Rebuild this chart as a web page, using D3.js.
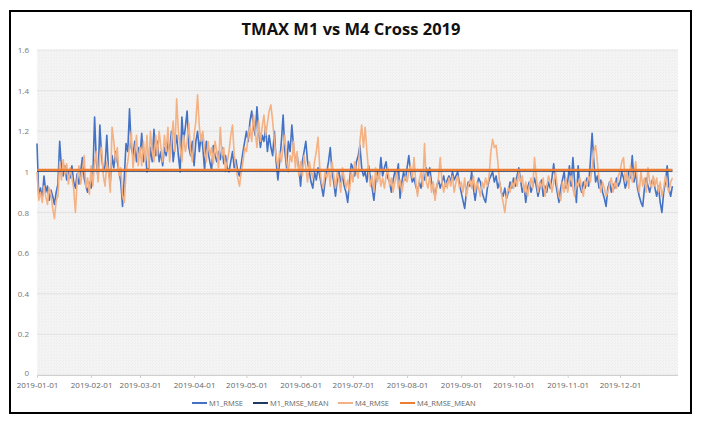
<!DOCTYPE html>
<html><head><meta charset="utf-8">
<script src="https://cdn.jsdelivr.net/npm/d3@7"></script>
<style>
html,body{margin:0;padding:0;background:#fff;}
svg{display:block;}
</style></head>
<body>
<svg id="chart" width="707" height="421"></svg>
<script>
// ---- data ----
const startDate = "2019-01-01";
const yTicks = [0, 0.2, 0.4, 0.6, 0.8, 1, 1.2, 1.4, 1.6];
const seriesNames = ["M1_RMSE", "M1_RMSE_MEAN", "M4_RMSE", "M4_RMSE_MEAN"];
const m1Mean = 1.005;
const m4Mean = 1.01;
const m1 = [
// Jan
1.14,0.88,0.92,0.87,0.98,0.90,0.93,0.86,0.91,0.88,0.84,0.90,0.94,1.15,1.02,0.98,1.03,0.96,1.00,0.97,1.03,0.95,0.92,0.99,0.94,1.00,1.07,0.97,0.93,0.90,0.95,
// Feb
0.92,0.98,1.27,1.05,0.97,1.23,1.08,1.00,1.03,1.18,1.00,0.95,1.08,1.02,1.10,1.05,1.00,0.95,0.83,0.97,1.14,1.10,1.31,1.12,1.08,1.15,1.05,1.12,
// Mar
1.08,1.19,1.05,1.10,1.00,1.02,1.12,1.05,1.21,1.08,1.15,1.05,1.10,1.03,1.12,1.08,1.15,1.10,1.20,1.05,1.12,1.18,1.08,1.00,1.27,1.15,1.22,1.30,1.12,1.08,1.15,
// Apr
1.03,1.15,1.20,1.10,1.18,1.12,1.01,1.15,1.10,1.05,1.01,1.13,1.08,1.05,1.10,1.06,1.12,1.04,1.08,1.02,1.00,1.05,1.10,1.02,1.06,1.00,0.98,1.04,1.10,1.15,
// May
1.20,1.15,1.25,1.30,1.22,1.18,1.32,1.20,1.12,1.18,1.15,1.22,1.10,1.18,1.12,1.08,1.20,1.05,0.96,1.05,1.15,1.28,1.10,1.02,1.15,1.10,1.23,1.12,1.05,1.08,1.02,
// Jun
0.93,1.05,1.10,1.15,1.05,1.00,0.95,0.92,1.00,0.96,1.02,0.98,0.93,0.88,0.95,1.00,1.05,1.12,1.00,0.95,0.88,0.96,1.00,0.95,0.98,0.93,0.90,0.85,0.95,1.04,
// Jul
1.02,0.98,1.05,1.08,1.13,1.02,0.98,1.00,0.95,1.03,0.97,0.92,0.86,0.95,1.00,0.97,1.07,0.98,1.02,1.05,0.97,0.95,0.90,0.96,1.00,0.98,1.04,0.87,0.95,1.00,0.96,
// Aug
1.02,1.08,1.00,0.95,0.97,0.93,0.90,0.95,0.92,0.98,0.96,1.02,0.98,1.02,0.95,0.92,0.88,0.93,0.96,0.92,0.95,0.98,0.93,0.96,0.98,0.95,1.00,0.96,0.98,1.00,0.94,
// Sep
0.90,0.86,0.82,0.90,0.95,0.93,1.00,0.92,0.86,0.93,0.97,0.95,0.90,0.87,0.85,0.92,0.96,0.98,1.00,0.95,0.98,0.92,0.95,0.90,0.88,0.92,0.87,0.90,0.95,0.92,
// Oct
0.97,0.93,0.98,1.02,0.96,0.90,0.93,0.85,0.92,0.95,0.90,0.93,0.97,0.93,0.88,0.92,0.96,0.88,0.93,0.90,0.95,0.92,0.97,1.04,0.95,0.90,0.85,0.92,0.96,1.00,0.92,
// Nov
0.95,1.03,0.93,1.07,0.95,0.85,1.03,0.93,0.90,0.95,0.92,0.97,0.93,1.05,1.19,1.05,0.95,0.98,0.92,0.96,0.90,0.87,0.83,0.92,0.95,0.90,0.94,0.92,0.97,0.93,
// Dec
0.95,1.00,0.97,0.92,0.95,1.00,0.97,1.08,0.95,1.00,0.92,0.88,0.85,0.83,0.92,0.97,0.93,0.90,0.95,0.97,0.92,0.88,0.93,0.85,0.80,0.90,0.95,1.03,0.92,0.88,0.93
];
const m4 = [
// Jan
1.00,0.86,0.90,0.85,0.93,0.88,0.84,0.92,0.89,0.82,0.77,0.86,0.88,1.05,0.96,1.06,0.99,1.04,0.94,1.02,0.97,0.92,0.80,0.96,1.03,0.94,1.00,1.08,0.92,0.97,0.89,
// Feb
1.03,0.93,1.05,1.10,0.95,1.08,1.12,0.98,0.93,1.05,1.00,0.90,1.22,1.15,1.05,1.12,0.98,1.02,0.88,0.85,1.00,1.05,1.12,1.20,1.02,1.10,1.18,1.03,
// Mar
1.12,1.03,1.15,1.05,1.18,1.02,1.20,1.10,1.05,1.18,1.08,1.20,1.12,1.05,1.18,1.10,1.22,1.05,1.15,1.25,1.10,1.36,1.20,1.12,1.05,1.18,1.10,1.15,1.24,1.10,1.05,
// Apr
1.18,1.25,1.38,1.22,1.15,1.20,1.10,1.05,1.15,1.08,1.12,1.04,1.15,1.10,1.02,1.22,1.08,1.12,1.00,1.05,1.10,1.18,1.23,1.08,1.02,0.97,0.93,1.00,1.05,1.12,
// May
1.10,1.18,1.22,1.15,1.28,1.20,1.12,1.25,1.15,1.22,1.28,1.18,1.24,1.30,1.33,1.25,1.15,1.08,1.02,1.10,1.05,1.12,1.18,1.05,1.00,1.08,1.05,1.15,1.02,1.10,0.98,
// Jun
1.05,0.98,1.08,1.02,0.95,1.05,1.00,0.97,1.05,1.10,1.17,1.02,0.95,0.92,1.00,0.97,1.02,0.93,1.05,0.98,0.92,1.00,0.96,0.90,1.02,0.97,0.92,0.96,0.90,1.00,
// Jul
0.95,1.05,1.00,0.97,1.15,1.23,1.12,1.22,1.10,1.00,0.93,0.98,0.90,1.02,0.95,1.00,0.93,0.97,0.92,0.98,1.02,0.93,0.97,0.90,0.95,1.00,0.92,0.96,0.90,0.95,0.98,
// Aug
0.95,1.00,1.03,0.97,1.07,0.95,0.88,0.96,1.00,0.93,1.14,0.95,0.92,0.98,0.90,0.95,0.86,0.93,0.97,1.07,0.95,0.90,0.95,0.92,0.97,0.93,0.98,0.90,0.95,0.98,0.92,
// Sep
0.95,0.90,0.97,0.88,0.93,0.96,0.92,0.98,0.90,0.95,0.92,0.88,0.95,0.92,0.97,0.93,0.98,1.10,1.16,1.12,1.13,1.05,0.95,0.90,0.85,0.80,0.88,0.92,0.90,0.95,
// Oct
0.92,0.97,0.93,1.00,0.95,0.98,0.90,0.95,0.88,0.93,0.97,0.92,1.07,0.98,0.90,0.95,0.92,0.97,0.88,0.93,0.98,0.95,0.90,0.95,1.00,0.93,0.88,0.86,0.95,0.90,0.97,
// Nov
0.90,0.95,0.98,0.92,0.88,0.95,0.93,0.97,0.92,0.88,0.96,0.93,0.98,0.95,1.02,1.10,1.13,1.05,0.96,0.90,0.95,0.92,0.88,0.90,0.94,0.97,0.90,0.95,0.92,0.98,
// Dec
1.00,1.05,1.07,0.95,1.00,0.92,1.03,0.95,0.98,1.05,0.95,0.90,1.00,0.93,0.97,0.90,1.02,0.95,0.92,0.98,0.93,0.97,0.90,0.95,0.88,0.92,0.98,0.93,0.90,0.95,0.97
];

// ---- chart ----
const svg = d3.select("#chart");
const font = "'Open Sans', 'Noto Sans', sans-serif";
const t0 = d3.timeParse("%Y-%m-%d")(startDate);
const dates = m1.map((_, i) => d3.timeDay.offset(t0, i));
const tEnd = dates[dates.length - 1];

const plot = {left: 37, right: 678, top: 50, bottom: 375};
const x = d3.scaleTime().domain([t0, tEnd]).range([37, 672.4]);
const y = d3.scaleLinear().domain([0, 1.6]).range([plot.bottom, plot.top]);

// outer frame
svg.append("rect").attr("x", 10).attr("y", 11).attr("width", 681).attr("height", 402)
  .attr("fill", "#fff").attr("stroke", "#000").attr("stroke-width", 2);

// title
svg.append("text").attr("x", 351).attr("y", 35).attr("text-anchor", "middle")
  .attr("font-family", font).attr("font-weight", "bold").attr("font-size", 16.5)
  .attr("fill", "#111").text("TMAX M1 vs M4 Cross 2019");

// textured plot background
const defs = svg.append("defs");
const pat = defs.append("pattern").attr("id", "tex").attr("patternUnits", "userSpaceOnUse")
  .attr("width", 3).attr("height", 3);
pat.append("rect").attr("width", 3).attr("height", 3).attr("fill", "#f4f4f4");
pat.append("rect").attr("x", 0).attr("y", 0).attr("width", 1).attr("height", 1).attr("fill", "#ebebeb");
pat.append("rect").attr("x", 2).attr("y", 1).attr("width", 1).attr("height", 1).attr("fill", "#ededed");
svg.append("rect").attr("x", plot.left).attr("y", plot.top)
  .attr("width", plot.right - plot.left).attr("height", plot.bottom - plot.top)
  .attr("fill", "url(#tex)");

// gridlines
svg.append("g").selectAll("line").data(yTicks).join("line")
  .attr("x1", plot.left).attr("x2", plot.right)
  .attr("y1", d => y(d)).attr("y2", d => y(d))
  .attr("stroke", "#dedede").attr("stroke-width", 0.8);

// y axis
const yAxis = d3.axisLeft(y).tickValues(yTicks).tickSize(0).tickPadding(8)
  .tickFormat(d3.format("~g"));
const gy = svg.append("g").attr("transform", `translate(${plot.left},0)`).call(yAxis);
gy.select(".domain").remove();
gy.selectAll("text").attr("font-family", font).attr("font-size", 8).attr("fill", "#777");
gy.selectAll(".tick").filter(d => d === 0).select("text").attr("dy", "0.1em");

// x axis
const monthTicks = d3.timeMonth.range(t0, d3.timeDay.offset(tEnd, 1));
const xAxis = d3.axisBottom(x).tickValues(monthTicks).tickSize(3).tickPadding(4)
  .tickFormat(d3.timeFormat("%Y-%m-%d"));
const gx = svg.append("g").attr("transform", `translate(0,${plot.bottom})`).call(xAxis);
gx.select(".domain").attr("stroke", "#d0d0d0").attr("d", `M${plot.left},0.5H${plot.right}`);
gx.selectAll(".tick line").attr("stroke", "#d0d0d0");
gx.selectAll("text").attr("font-family", font).attr("font-size", 8).attr("fill", "#666");

// lines
const line = d3.line().x((d, i) => x(dates[i])).y(d => y(d));
const colors = {"M1_RMSE": "#4472C4", "M1_RMSE_MEAN": "#1F3864", "M4_RMSE": "#F4B183", "M4_RMSE_MEAN": "#ED7D31"};

svg.append("path").datum(m1).attr("d", line).attr("fill", "none")
  .attr("stroke", colors.M1_RMSE).attr("stroke-width", 1.6).attr("stroke-linejoin", "round");
svg.append("path").datum(m4).attr("d", line).attr("fill", "none")
  .attr("stroke", colors.M4_RMSE).attr("stroke-width", 1.6).attr("stroke-linejoin", "round");
svg.append("line").attr("x1", x(t0)).attr("x2", x(tEnd))
  .attr("y1", y(m1Mean)).attr("y2", y(m1Mean))
  .attr("stroke", colors.M1_RMSE_MEAN).attr("stroke-width", 2);
svg.append("line").attr("x1", x(t0)).attr("x2", x(tEnd))
  .attr("y1", y(m4Mean)).attr("y2", y(m4Mean))
  .attr("stroke", colors.M4_RMSE_MEAN).attr("stroke-width", 2.2);

// legend
const legendX = [192, 253, 338, 400];
const lg = svg.append("g").selectAll("g").data(seriesNames).join("g")
  .attr("transform", (d, i) => `translate(${legendX[i]},403)`);
lg.append("line").attr("x1", 0).attr("x2", 15).attr("y1", 0).attr("y2", 0)
  .attr("stroke", d => colors[d]).attr("stroke-width", 2);
lg.append("text").attr("x", 17).attr("y", 2.8).attr("font-family", font)
  .attr("font-size", 7.5).attr("fill", "#666").text(d => d);
</script>
</body></html>
